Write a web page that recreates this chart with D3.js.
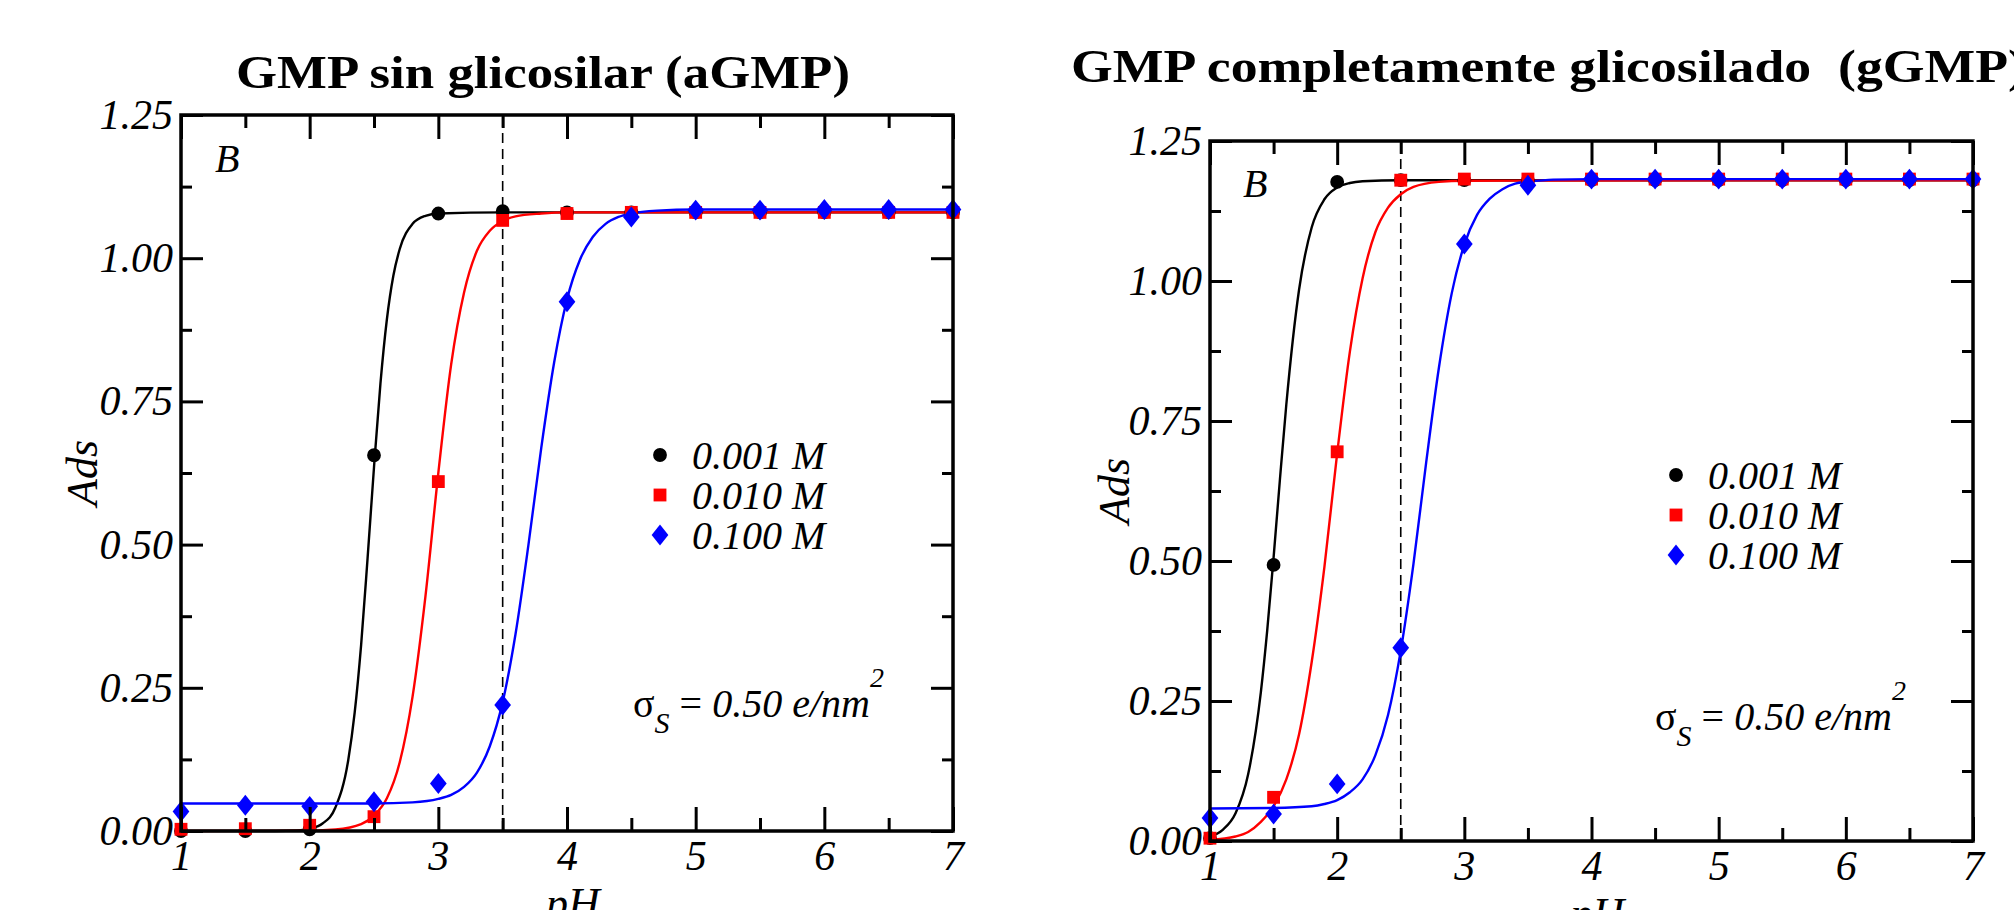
<!DOCTYPE html>
<html>
<head>
<meta charset="utf-8">
<script src="https://d3js.org/d3.v7.min.js"></script>
<style>
  body { margin: 0; background: #ffffff; }
  svg text { font-family: "Liberation Serif", "DejaVu Serif", serif; }
</style>
</head>
<body>
<svg id="chart" width="2014" height="910"></svg>
<script>
// ---- data ----
var phValues = [1, 1.5, 2, 2.5, 3, 3.5, 4, 4.5, 5, 5.5, 6, 6.5, 7];
var xTicks = [1, 2, 3, 4, 5, 6, 7];
var xMinorTicks = [1.5, 2.5, 3.5, 4.5, 5.5, 6.5];
var yTicks = [0, 0.25, 0.5, 0.75, 1, 1.25];
var yMinorTicks = [0.125, 0.375, 0.625, 0.875, 1.125];
var yTickLabels = ["0.00", "0.25", "0.50", "0.75", "1.00", "1.25"];
var legendLabels = ["0.001 M", "0.010 M", "0.100 M"];
var seriesColors = ["#000000", "#ff0000", "#0000ff"];

// GMP sin glicosilar (aGMP): simulated points
var aGmp001 = [0.0, 0.0, 0.003, 0.656, 1.078, 1.082, 1.08, 1.08, 1.08, 1.08, 1.08, 1.08, 1.08];
var aGmp010 = [0.003, 0.004, 0.01, 0.025, 0.61, 1.066, 1.078, 1.08, 1.08, 1.08, 1.08, 1.08, 1.08];
var aGmp100 = [0.034, 0.045, 0.043, 0.051, 0.083, 0.22, 0.924, 1.072, 1.084, 1.084, 1.085, 1.085, 1.085];

// aGMP fitted curves, [pH, Ads]
var aFit001 = [[1, 0], [1.5, 0], [1.9, 0.001], [2.0, 0.004], [2.1, 0.013], [2.2, 0.041], [2.3, 0.124], [2.35, 0.207],
  [2.4, 0.325], [2.45, 0.476], [2.5, 0.635], [2.55, 0.781], [2.6, 0.893], [2.65, 0.969], [2.7, 1.016], [2.8, 1.06],
  [2.9, 1.074], [3.0, 1.078], [3.5, 1.08], [7, 1.08]];
var aFit010 = [[1, 0], [2.0, 0.0005], [2.2, 0.0025], [2.4, 0.012], [2.5, 0.027], [2.6, 0.057], [2.7, 0.12], [2.8, 0.235],
  [2.9, 0.41], [3.0, 0.625], [3.1, 0.815], [3.2, 0.94], [3.3, 1.013], [3.4, 1.048], [3.5, 1.065], [3.6, 1.073],
  [3.8, 1.078], [4.0, 1.08], [7, 1.08]];
var aFit100 = [[1, 0.048], [2.5, 0.048], [2.8, 0.05], [3.0, 0.056], [3.1, 0.063], [3.2, 0.077], [3.3, 0.102], [3.4, 0.148],
  [3.5, 0.225], [3.6, 0.344], [3.7, 0.499], [3.8, 0.669], [3.9, 0.818], [4.0, 0.928], [4.1, 0.997], [4.2, 1.037],
  [4.3, 1.06], [4.4, 1.072], [4.5, 1.078], [4.7, 1.083], [5, 1.085], [7, 1.085]];

// GMP completamente glicosilado (gGMP): simulated points
var gGmp001 = [0.005, 0.493, 1.177, 1.18, 1.18, 1.18, 1.18, 1.18, 1.18, 1.18, 1.18, 1.18, 1.18];
var gGmp010 = [0.005, 0.078, 0.695, 1.18, 1.182, 1.182, 1.182, 1.182, 1.182, 1.182, 1.182, 1.182, 1.182];
var gGmp100 = [0.041, 0.048, 0.102, 0.345, 1.066, 1.171, 1.182, 1.182, 1.182, 1.182, 1.182, 1.182, 1.182];

var gFit001 = [[1, 0.008], [1.1, 0.02], [1.2, 0.049], [1.3, 0.119], [1.4, 0.266], [1.45, 0.376], [1.5, 0.506],
  [1.55, 0.646], [1.6, 0.779], [1.7, 0.984], [1.8, 1.096], [1.9, 1.146], [2.0, 1.167], [2.1, 1.175], [2.2, 1.178],
  [2.5, 1.18], [7, 1.18]];
var gFit010 = [[1, 0.002], [1.2, 0.008], [1.3, 0.016], [1.4, 0.034], [1.5, 0.062], [1.6, 0.11], [1.7, 0.19], [1.8, 0.32],
  [1.9, 0.49], [2.0, 0.692], [2.1, 0.874], [2.2, 1.005], [2.3, 1.087], [2.4, 1.131], [2.5, 1.155], [2.6, 1.168],
  [2.8, 1.177], [3.0, 1.179], [7, 1.18]];
var gFit100 = [[1, 0.058], [1.5, 0.059], [1.8, 0.062], [1.9, 0.066], [2.0, 0.073], [2.1, 0.087], [2.2, 0.11], [2.3, 0.153],
  [2.4, 0.225], [2.5, 0.34], [2.6, 0.495], [2.7, 0.676], [2.8, 0.845], [2.9, 0.977], [3.0, 1.065], [3.1, 1.118],
  [3.2, 1.147], [3.3, 1.164], [3.4, 1.174], [3.5, 1.177], [3.7, 1.181], [4, 1.182], [7, 1.182]];

var svg = d3.select("#chart");

// diamond taller than wide, like the original marker
var tallDiamond = {
  draw: function (ctx, size) {
    var h = Math.sqrt(size) * 0.72, w = h * 0.8;
    ctx.moveTo(0, -h); ctx.lineTo(w, 0); ctx.lineTo(0, h); ctx.lineTo(-w, 0); ctx.closePath();
  }
};
var symbolTypes = [d3.symbolCircle, d3.symbolSquare, tallDiamond];
var symbolSizes = [150, 165, 210];

function drawPanel(p) {
  var x = d3.scaleLinear().domain([1, 7]).range([p.left, p.right]);
  var y = d3.scaleLinear().domain([0, 1.25]).range([p.bottom, p.top]);
  var g = svg.append("g");

  // dashed reference line
  g.append("line")
    .attr("x1", x(p.dashAt)).attr("x2", x(p.dashAt))
    .attr("y1", y(0)).attr("y2", y(1.25))
    .attr("stroke", "#000").attr("stroke-width", 1.6)
    .attr("stroke-dasharray", "10,6");

  var line = d3.line()
    .x(function (d) { return x(d[0]); })
    .y(function (d) { return y(d[1]); })
    .curve(d3.curveMonotoneX);

  p.fits.forEach(function (fit, i) {
    g.append("path").datum(fit)
      .attr("d", line)
      .attr("fill", "none")
      .attr("stroke", seriesColors[i])
      .attr("stroke-width", 2.4);
  });

  p.series.forEach(function (vals, i) {
    g.selectAll(".pt" + i)
      .data(vals)
      .enter()
      .append("path")
      .attr("class", "pt" + i)
      .attr("d", d3.symbol().type(symbolTypes[i]).size(symbolSizes[i]))
      .attr("transform", function (d, j) { return "translate(" + x(phValues[j]) + "," + y(d) + ")"; })
      .attr("fill", seriesColors[i]);
  });

  // ticks on all four sides, pointing inward
  function ticks(axis, tf) {
    var a = g.append("g").attr("transform", tf).call(axis);
    a.select(".domain").remove();
    a.selectAll("line").attr("stroke", "#000").attr("stroke-width", 3);
    return a;
  }
  ticks(d3.axisBottom(x).tickValues(xMinorTicks).tickSize(-13).tickFormat(""), "translate(0," + p.bottom + ")");
  ticks(d3.axisTop(x).tickValues(xMinorTicks).tickSize(-13).tickFormat(""), "translate(0," + p.top + ")");
  ticks(d3.axisTop(x).tickValues(xTicks).tickSize(-24).tickFormat(""), "translate(0," + p.top + ")");
  ticks(d3.axisLeft(y).tickValues(yMinorTicks).tickSize(-11).tickFormat(""), "translate(" + p.left + ",0)");
  ticks(d3.axisRight(y).tickValues(yMinorTicks).tickSize(-11).tickFormat(""), "translate(" + p.right + ",0)");
  ticks(d3.axisRight(y).tickValues(yTicks).tickSize(-22).tickFormat(""), "translate(" + p.right + ",0)");

  var xa = ticks(d3.axisBottom(x).tickValues(xTicks).tickSize(-24).tickPadding(9).tickFormat(d3.format("d")),
    "translate(0," + p.bottom + ")");
  xa.selectAll("text").attr("font-size", 42).attr("font-style", "italic").attr("fill", "#000")
    .attr("font-family", "Liberation Serif");
  var ya = ticks(d3.axisLeft(y).tickValues(yTicks).tickSize(-22).tickPadding(8)
    .tickFormat(function (d, i) { return yTickLabels[i]; }), "translate(" + p.left + ",0)");
  ya.selectAll("text").attr("font-size", 42).attr("font-style", "italic").attr("fill", "#000")
    .attr("font-family", "Liberation Serif");

  // frame
  g.append("rect")
    .attr("x", p.left).attr("y", p.top)
    .attr("width", p.right - p.left).attr("height", p.bottom - p.top)
    .attr("fill", "none").attr("stroke", "#000").attr("stroke-width", 3.5);

  // panel letter
  g.append("text").attr("x", p.bx).attr("y", p.by)
    .attr("font-size", 40).attr("font-style", "italic").text("B");

  // axis titles
  g.append("text")
    .attr("transform", "translate(" + p.ylabX + "," + ((p.top + p.bottom) / 2) + ") rotate(-90)")
    .attr("text-anchor", "middle").attr("font-size", 44).attr("font-style", "italic")
    .text("Ads");
  g.append("text")
    .attr("x", (p.left + p.right) / 2 + 6).attr("y", p.bottom + 87)
    .attr("text-anchor", "middle").attr("font-size", 44).attr("font-style", "italic")
    .text("pH");

  // legend
  legendLabels.forEach(function (lab, i) {
    var ly = p.legY + i * 40;
    g.append("path")
      .attr("d", d3.symbol().type(symbolTypes[i]).size(symbolSizes[i]))
      .attr("transform", "translate(" + p.legX + "," + ly + ")")
      .attr("fill", seriesColors[i]);
    g.append("text")
      .attr("x", p.legX + 32).attr("y", ly + 14)
      .attr("font-size", 40).attr("font-style", "italic")
      .text(lab);
  });

  // surface charge note
  var s = g.append("text").attr("x", p.sigX).attr("y", p.sigY).attr("font-size", 40);
  s.append("tspan").text("\u03c3");
  s.append("tspan").attr("dy", 16).attr("font-size", 30).attr("font-style", "italic").text("S");
  s.append("tspan").attr("dy", -16).text(" = ");
  s.append("tspan").attr("font-style", "italic").text("0.50 e/nm");
  s.append("tspan").attr("dy", -30).attr("font-size", 28).attr("font-style", "italic").text("2");

  // heading
  svg.append("text")
    .attr("x", p.titleX).attr("y", p.titleY)
    .attr("font-size", 46).attr("font-weight", "bold")
    .attr("textLength", p.titleLen).attr("lengthAdjust", "spacingAndGlyphs")
    .style("white-space", "pre")
    .text(p.title);
}

drawPanel({
  left: 181, right: 953, top: 115, bottom: 831,
  dashAt: 3.5,
  fits: [aFit001, aFit010, aFit100],
  series: [aGmp001, aGmp010, aGmp100],
  bx: 215, by: 172,
  ylabX: 97,
  legX: 660, legY: 455,
  sigX: 633, sigY: 717,
  title: "GMP sin glicosilar (aGMP)", titleX: 236, titleY: 88, titleLen: 614
});

drawPanel({
  left: 1210, right: 1973, top: 141, bottom: 841,
  dashAt: 2.5,
  fits: [gFit001, gFit010, gFit100],
  series: [gGmp001, gGmp010, gGmp100],
  bx: 1243, by: 197,
  ylabX: 1129,
  legX: 1676, legY: 475,
  sigX: 1655, sigY: 730,
  title: "GMP completamente glicosilado  (gGMP)", titleX: 1071, titleY: 82, titleLen: 955
});
</script>
</body>
</html>
